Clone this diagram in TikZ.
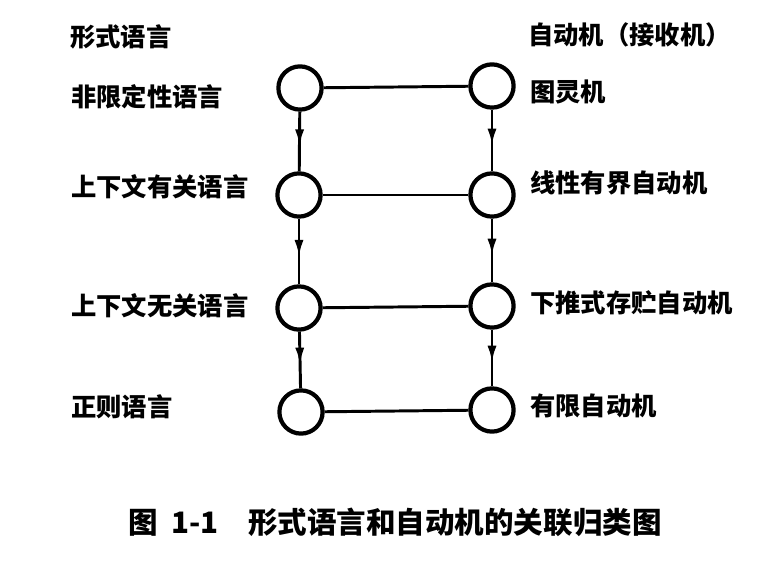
\documentclass[tikz,border=0pt]{standalone}
\usepackage{fontspec}
\setmainfont{Noto Sans CJK SC}
\usetikzlibrary{arrows.meta}
\usetikzlibrary{decorations.markings}

\tikzset{
    state/.style={draw, circle, line width=3pt, minimum size=1.08cm, inner sep=0pt},
    link/.style={line width=2.1pt},
    midarrow/.style={line width=2.1pt, postaction={decorate},
        decoration={markings, mark=at position 0.58 with {\arrow{Latex[length=12pt,width=6.5pt]}}}},
    lab/.style={anchor=west, font=\fontsize{18}{21}\selectfont\bfseries, inner sep=0pt}
}

\begin{document}
\begin{tikzpicture}[x=0.025cm, y=-0.025cm]
    \useasboundingbox (0,0) rectangle (780,570);
    % headings
    \node[lab] (hl) at (70,37) {形式语言};
    \node[lab] (hr) at (528,35) {自动机（接收机）};
    % circles
    \node[state] (l1) at (300,88) {};
    \node[state] (l2) at (299,195) {};
    \node[state] (l3) at (299,308) {};
    \node[state] (l4) at (301,412) {};
    \node[state] (r1) at (492,86) {};
    \node[state] (r2) at (492,195) {};
    \node[state] (r3) at (492,306) {};
    \node[state] (r4) at (492,410) {};
    % labels
    \node[lab] (t1) at (71,97) {非限定性语言};
    \node[lab] (t2) at (71,187) {上下文有关语言};
    \node[lab] (t3) at (71,306) {上下文无关语言};
    \node[lab] (t4) at (71,407) {正则语言};
    \node[lab] (s1) at (530,92) {图灵机};
    \node[lab] (s2) at (530,183) {线性有界自动机};
    \node[lab] (s3) at (530,303) {下推式存贮自动机};
    \node[lab] (s4) at (530,406) {有限自动机};
    % connectors
    \draw[link] (l1) -- (r1);
    \draw[link] (l2) -- (r2);
    \draw[link] (l3) -- (r3);
    \draw[link] (l4) -- (r4);
    \draw[midarrow] (l1) -- (l2);
    \draw[midarrow] (l2) -- (l3);
    \draw[midarrow] (l3) -- (l4);
    \draw[midarrow] (r1) -- (r2);
    \draw[midarrow] (r2) -- (r3);
    \draw[midarrow] (r3) -- (r4);
    % caption
    \node[font=\fontsize{21}{25}\selectfont\bfseries, inner sep=0pt] (cap) at (395,522) {图\ \ 1-1\quad 形式语言和自动机的关联归类图};
\end{tikzpicture}
\end{document}
